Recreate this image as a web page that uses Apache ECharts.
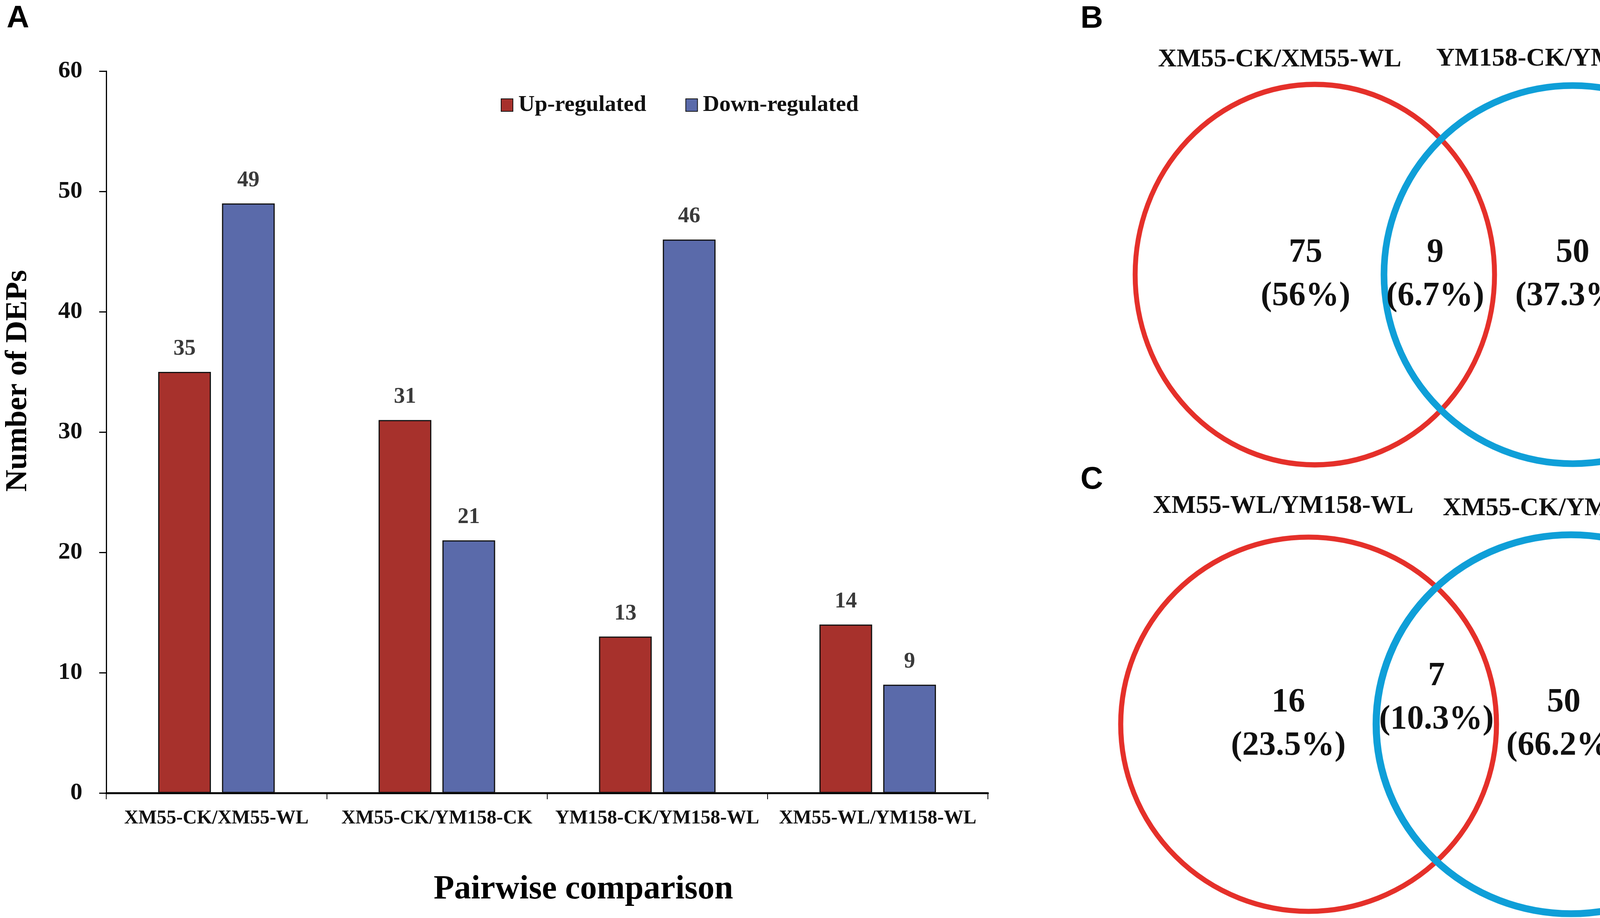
<!DOCTYPE html>
<html>
<head>
<meta charset="utf-8">
<script src="https://cdn.jsdelivr.net/npm/echarts@6.0.0/dist/echarts.min.js"></script>
<style>
  html, body { margin: 0; padding: 0; background: #ffffff; }
  #main { width: 4550px; height: 2350px; }
</style>
</head>
<body>
<div id="main"></div>
<script>
// panel A data
var categories = ['XM55-CK/XM55-WL', 'XM55-CK/YM158-CK', 'YM158-CK/YM158-WL', 'XM55-WL/YM158-WL'];
var upRegulated = [35, 31, 13, 14];
var downRegulated = [49, 21, 46, 9];
var yMin = 0, yMax = 60, yStep = 10;

// panel B data (only first, shared, only second)
var vennBSets = ['XM55-CK/XM55-WL', 'YM158-CK/YM158-WL'];
var vennBCounts = [75, 9, 50];
var vennBShares = ['56%', '6.7%', '37.3%'];

// panel C data
var vennCSets = ['XM55-WL/YM158-WL', 'XM55-CK/YM158-CK'];
var vennCCounts = [16, 7, 50];
var vennCShares = ['23.5%', '10.3%', '66.2%'];

var serif = "'Liberation Serif', 'Times New Roman', serif";
var sans = "'Liberation Sans', Arial, sans-serif";
var barRed = '#a7312c', barBlue = '#5a6aaa';
var vennRed = '#e5302a', vennBlue = '#0f9fd8';

var myChart = echarts.init(document.getElementById('main'));

// build one venn panel on a hidden grid (circle centres at -0.5 and 0.5)
function vennSeries(gridIndex, sets, counts, shares, look) {
    var circles = {
        type: 'scatter',
        xAxisIndex: gridIndex,
        yAxisIndex: gridIndex,
        silent: true,
        z: 2,
        data: sets.map(function (name, i) {
            return {
                value: [i === 0 ? -0.5 : 0.5, 0],
                name: name,
                symbolSize: look.sizes[i],
                itemStyle: {
                    color: 'rgba(0,0,0,0)',
                    borderColor: i === 0 ? vennRed : vennBlue,
                    borderWidth: look.strokes[i],
                    opacity: 1
                },
                label: {
                    show: true,
                    position: 'inside',
                    offset: look.nameOffsets[i],
                    formatter: name,
                    fontFamily: serif,
                    fontWeight: 'bold',
                    fontSize: 66,
                    color: '#111'
                }
            };
        })
    };
    var regions = {
        type: 'scatter',
        xAxisIndex: gridIndex,
        yAxisIndex: gridIndex,
        silent: true,
        symbolSize: 0,
        z: 3,
        itemStyle: {opacity: 1},
        data: counts.map(function (c, i) {
            return {value: look.spots[i], name: String(c), share: shares[i]};
        }),
        label: {
            show: true,
            position: 'inside',
            formatter: function (p) {
                return p.data.name + '\n(' + p.data.share + ')';
            },
            fontFamily: serif,
            fontWeight: 'bold',
            fontSize: 86,
            lineHeight: 111,
            color: '#111'
        }
    };
    return [circles, regions];
}

var vennX = {type: 'value', min: -1, max: 1, show: false};
var vennY = {type: 'value', min: -0.5, max: 0.5, show: false};

option = {
    backgroundColor: '#ffffff',
    animation: false,
    textStyle: {fontFamily: serif},
    graphic: [
        {type: 'text', x: 46, y: 48, style: {text: 'A', font: 'bold 80px ' + sans, fill: '#000', align: 'center', verticalAlign: 'middle'}},
        {type: 'text', x: 2795, y: 49, style: {text: 'B', font: 'bold 80px ' + sans, fill: '#000', align: 'center', verticalAlign: 'middle'}},
        {type: 'text', x: 2795, y: 1229, style: {text: 'C', font: 'bold 80px ' + sans, fill: '#000', align: 'center', verticalAlign: 'middle'}}
    ],
    legend: {
        left: 1277,
        top: 235,
        icon: 'rect',
        itemWidth: 30,
        itemHeight: 32,
        itemGap: 100,
        textStyle: {fontFamily: serif, fontWeight: 'bold', fontSize: 58, color: '#111', padding: [0, 0, 0, 9]},
        data: ['Up-regulated', 'Down-regulated']
    },
    grid: [
        {left: 222, right: 2021, top: 182, bottom: 320},
        {left: 3036, top: 373, width: 1320, height: 660},
        {left: 3014, top: 1518, width: 1344, height: 672}
    ],
    xAxis: [
        {
            type: 'category',
            gridIndex: 0,
            data: categories,
            name: 'Pairwise comparison',
            nameLocation: 'middle',
            nameGap: 205,
            nameTextStyle: {fontFamily: serif, fontWeight: 'bold', fontSize: 86, color: '#000', padding: [0, 0, 0, 186]},
            axisLine: {lineStyle: {color: '#000', width: 5}},
            axisTick: {show: true, length: 16, lineStyle: {color: '#000', width: 2}},
            axisLabel: {fontFamily: serif, fontWeight: 'bold', fontSize: 50, color: '#111', margin: 40, interval: 0},
            splitLine: {show: false}
        },
        Object.assign({gridIndex: 1}, vennX),
        Object.assign({gridIndex: 2}, vennX)
    ],
    yAxis: [
        {
            type: 'value',
            gridIndex: 0,
            min: yMin,
            max: yMax,
            interval: yStep,
            name: 'Number of DEPs',
            nameLocation: 'middle',
            nameGap: 186,
            nameTextStyle: {fontFamily: serif, fontWeight: 'bold', fontSize: 78, color: '#000', padding: [0, 0, 0, 262]},
            axisLine: {show: true, lineStyle: {color: '#000', width: 3}},
            axisTick: {show: true, length: 18, lineStyle: {color: '#000', width: 3}},
            axisLabel: {fontFamily: serif, fontWeight: 'bold', fontSize: 62, color: '#111', margin: 61},
            splitLine: {show: false}
        },
        Object.assign({gridIndex: 1}, vennY),
        Object.assign({gridIndex: 2}, vennY)
    ],
    series: [
        {
            name: 'Up-regulated',
            type: 'bar',
            xAxisIndex: 0,
            yAxisIndex: 0,
            data: upRegulated,
            barWidth: 135,
            barGap: '21%',
            itemStyle: {color: barRed, borderColor: '#111', borderWidth: 3},
            label: {show: true, position: 'top', distance: 30, fontFamily: serif, fontWeight: 'bold', fontSize: 57, color: '#3a3a3a'}
        },
        {
            name: 'Down-regulated',
            type: 'bar',
            xAxisIndex: 0,
            yAxisIndex: 0,
            data: downRegulated,
            barWidth: 135,
            itemStyle: {color: barBlue, borderColor: '#111', borderWidth: 3},
            label: {show: true, position: 'top', distance: 30, fontFamily: serif, fontWeight: 'bold', fontSize: 57, color: '#3a3a3a'}
        }
    ].concat(
        vennSeries(1, vennBSets, vennBCounts, vennBShares, {
            sizes: [[920, 974], [966, 968]],
            strokes: [13, 17],
            nameOffsets: [[-90, -550], [-5, -552]],
            spots: [[-0.536, 0], [-0.033, 0], [0.5, 0]]
        }),
        vennSeries(2, vennCSets, vennCCounts, vennCShares, {
            sizes: [[962, 958], [998, 970]],
            strokes: [13, 18],
            nameOffsets: [[-65, -558], [-6, -552]],
            spots: [[-0.577, 0], [-0.013, 0.1], [0.472, 0]]
        })
    )
};

myChart.setOption(option);
</script>
</body>
</html>
